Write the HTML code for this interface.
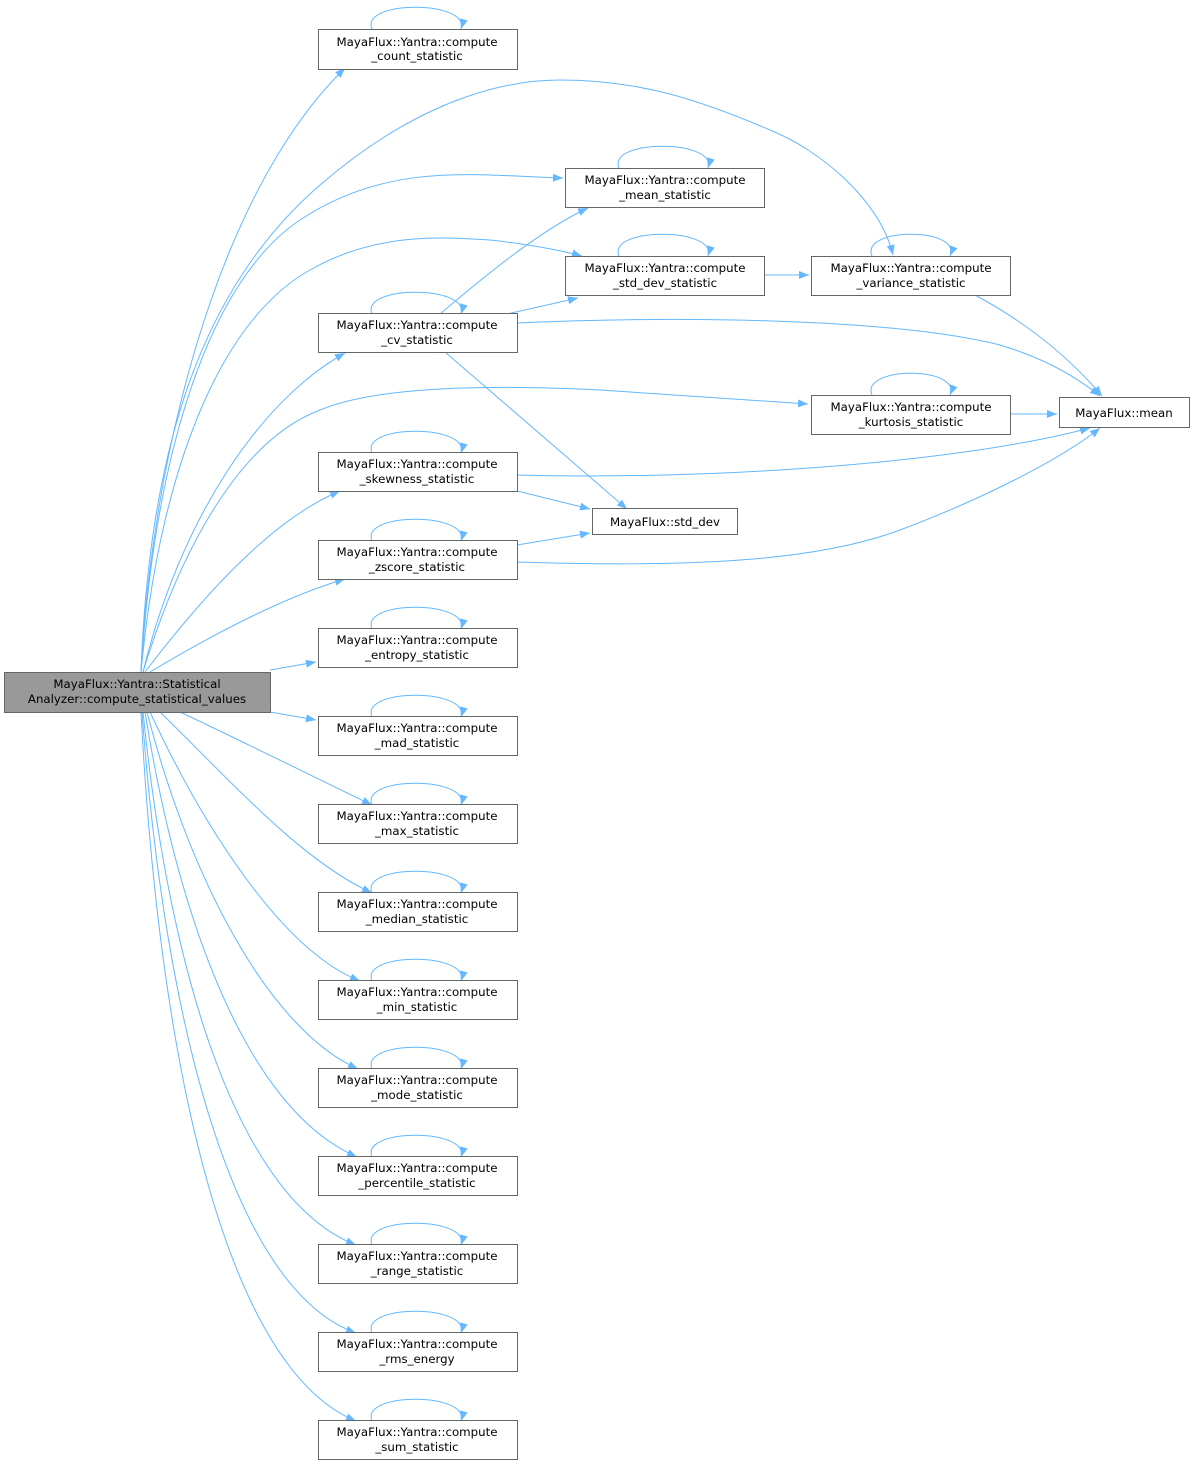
<!DOCTYPE html>
<html><head><meta charset="utf-8"><style>
html,body{margin:0;padding:0;background:#fff}
svg{display:block}
text{font-family:"DejaVu Sans","Liberation Sans",sans-serif;font-size:11.8px;fill:#000;text-anchor:middle}
.n{fill:#fff;stroke:#666;stroke-width:1}
.e{fill:none;stroke:#63b8ff;stroke-width:1}
</style></head><body>
<svg width="1195" height="1465" viewBox="0 0 1195 1465" xmlns="http://www.w3.org/2000/svg">
<defs><marker id="a" viewBox="0 0 10 10" refX="10" refY="5" markerWidth="10" markerHeight="10" markerUnits="userSpaceOnUse" orient="auto"><path d="M0,1 L10,5 L0,9 z" fill="#63b8ff"/></marker></defs>
<g class="e" marker-end="url(#a)">
<path d="M141,672 C150,480 210,200 345,68"/>
<path d="M141,672 C150,430 210,280 320,185 C430,90 520,80 560,80 C640,80 700,100 770,130 C820,150 880,200 893,255"/>
<path d="M141,672 C155,450 210,280 300,220 C390,160 480,176 563,178"/>
<path d="M141,672 C160,470 220,320 310,270 C380,230 450,238 490,240 C520,243 560,250 582,256"/>
<path d="M143,672 C180,520 260,400 345,353"/>
<path d="M143,672 C180,550 240,440 320,410 C380,385 500,385 600,390 L808,404"/>
<path d="M145,672 C200,600 270,520 340,491"/>
<path d="M150,672 C220,630 290,595 345,579"/>
<path d="M270,670 L316,662"/>
<path d="M270,712 L316,720"/>
<path d="M180,712 C250,745 320,780 372,805"/>
<path d="M160,712 C230,780 300,860 372,893"/>
<path d="M150,712 C200,820 280,950 360,981"/>
<path d="M147,712 C190,880 270,1030 358,1069"/>
<path d="M145,712 C180,930 250,1110 357,1157"/>
<path d="M143,712 C170,980 240,1200 356,1245"/>
<path d="M142,712 C165,1030 235,1290 356,1333"/>
<path d="M141,712 C160,1080 230,1370 356,1421"/>
<path d="M440,314 C480,280 540,230 588,208"/>
<path d="M507,314 L578,298"/>
<path d="M517,323 C700,315 900,320 1000,345 C1050,360 1080,380 1100,396"/>
<path d="M445,352 L627,509"/>
<path d="M764,275 L809,275"/>
<path d="M975,295 C1040,330 1080,370 1102,396"/>
<path d="M1010,414 L1057,414"/>
<path d="M517,475 C700,480 950,465 1090,428"/>
<path d="M517,491 L590,509"/>
<path d="M517,545 L590,533"/>
<path d="M517,562 C700,568 820,560 900,530 C980,500 1060,460 1100,428"/>
<path d="M372,29 C360,0 470,0 461,29"/>
<path d="M372,314 C360,285 470,285 461,314"/>
<path d="M372,453 C360,424 470,424 461,453"/>
<path d="M372,541 C360,512 470,512 461,541"/>
<path d="M372,629 C360,600 470,600 461,629"/>
<path d="M372,717 C360,688 470,688 461,717"/>
<path d="M372,805 C360,776 470,776 461,805"/>
<path d="M372,893 C360,864 470,864 461,893"/>
<path d="M372,981 C360,952 470,952 461,981"/>
<path d="M372,1069 C360,1040 470,1040 461,1069"/>
<path d="M372,1157 C360,1128 470,1128 461,1157"/>
<path d="M372,1245 C360,1216 470,1216 461,1245"/>
<path d="M372,1333 C360,1304 470,1304 461,1333"/>
<path d="M372,1421 C360,1392 470,1392 461,1421"/>
<path d="M619,168 C607,139 717,139 708,168"/>
<path d="M619,256 C607,227 717,227 708,256"/>
<path d="M872,256 C860,227 962,227 950,256"/>
<path d="M872,395 C860,366 962,366 950,395"/>
</g>
<rect x="4.5" y="672.5" width="266" height="40" fill="#999" stroke="#666"/>
<text x="137" y="688">MayaFlux::Yantra::Statistical</text>
<text x="137" y="703">Analyzer::compute_statistical_values</text>
<g>
<rect class="n" x="318.5" y="29.5" width="199" height="40"/><text x="417" y="46">MayaFlux::Yantra::compute</text><text x="417" y="60">_count_statistic</text>
<rect class="n" x="318.5" y="313.5" width="199" height="39"/><text x="417" y="329">MayaFlux::Yantra::compute</text><text x="417" y="344">_cv_statistic</text>
<rect class="n" x="318.5" y="452.5" width="199" height="39"/><text x="417" y="468">MayaFlux::Yantra::compute</text><text x="417" y="483">_skewness_statistic</text>
<rect class="n" x="318.5" y="540.5" width="199" height="39"/><text x="417" y="556">MayaFlux::Yantra::compute</text><text x="417" y="571">_zscore_statistic</text>
<rect class="n" x="318.5" y="628.5" width="199" height="39"/><text x="417" y="644">MayaFlux::Yantra::compute</text><text x="417" y="659">_entropy_statistic</text>
<rect class="n" x="318.5" y="716.5" width="199" height="39"/><text x="417" y="732">MayaFlux::Yantra::compute</text><text x="417" y="747">_mad_statistic</text>
<rect class="n" x="318.5" y="804.5" width="199" height="39"/><text x="417" y="820">MayaFlux::Yantra::compute</text><text x="417" y="835">_max_statistic</text>
<rect class="n" x="318.5" y="892.5" width="199" height="39"/><text x="417" y="908">MayaFlux::Yantra::compute</text><text x="417" y="923">_median_statistic</text>
<rect class="n" x="318.5" y="980.5" width="199" height="39"/><text x="417" y="996">MayaFlux::Yantra::compute</text><text x="417" y="1011">_min_statistic</text>
<rect class="n" x="318.5" y="1068.5" width="199" height="39"/><text x="417" y="1084">MayaFlux::Yantra::compute</text><text x="417" y="1099">_mode_statistic</text>
<rect class="n" x="318.5" y="1156.5" width="199" height="39"/><text x="417" y="1172">MayaFlux::Yantra::compute</text><text x="417" y="1187">_percentile_statistic</text>
<rect class="n" x="318.5" y="1244.5" width="199" height="39"/><text x="417" y="1260">MayaFlux::Yantra::compute</text><text x="417" y="1275">_range_statistic</text>
<rect class="n" x="318.5" y="1332.5" width="199" height="39"/><text x="417" y="1348">MayaFlux::Yantra::compute</text><text x="417" y="1363">_rms_energy</text>
<rect class="n" x="318.5" y="1420.5" width="199" height="39"/><text x="417" y="1436">MayaFlux::Yantra::compute</text><text x="417" y="1451">_sum_statistic</text>
<rect class="n" x="565.5" y="168.5" width="199" height="39"/><text x="665" y="184">MayaFlux::Yantra::compute</text><text x="665" y="199">_mean_statistic</text>
<rect class="n" x="565.5" y="256.5" width="199" height="39"/><text x="665" y="272">MayaFlux::Yantra::compute</text><text x="665" y="287">_std_dev_statistic</text>
<rect class="n" x="811.5" y="256.5" width="199" height="39"/><text x="911" y="272">MayaFlux::Yantra::compute</text><text x="911" y="287">_variance_statistic</text>
<rect class="n" x="811.5" y="395.5" width="199" height="39"/><text x="911" y="411">MayaFlux::Yantra::compute</text><text x="911" y="426">_kurtosis_statistic</text>
<rect class="n" x="1059.5" y="397.5" width="130" height="30"/><text x="1124" y="417">MayaFlux::mean</text>
<rect class="n" x="592.5" y="508.5" width="145" height="26"/><text x="665" y="526">MayaFlux::std_dev</text>
</g>
</svg>
</body></html>
